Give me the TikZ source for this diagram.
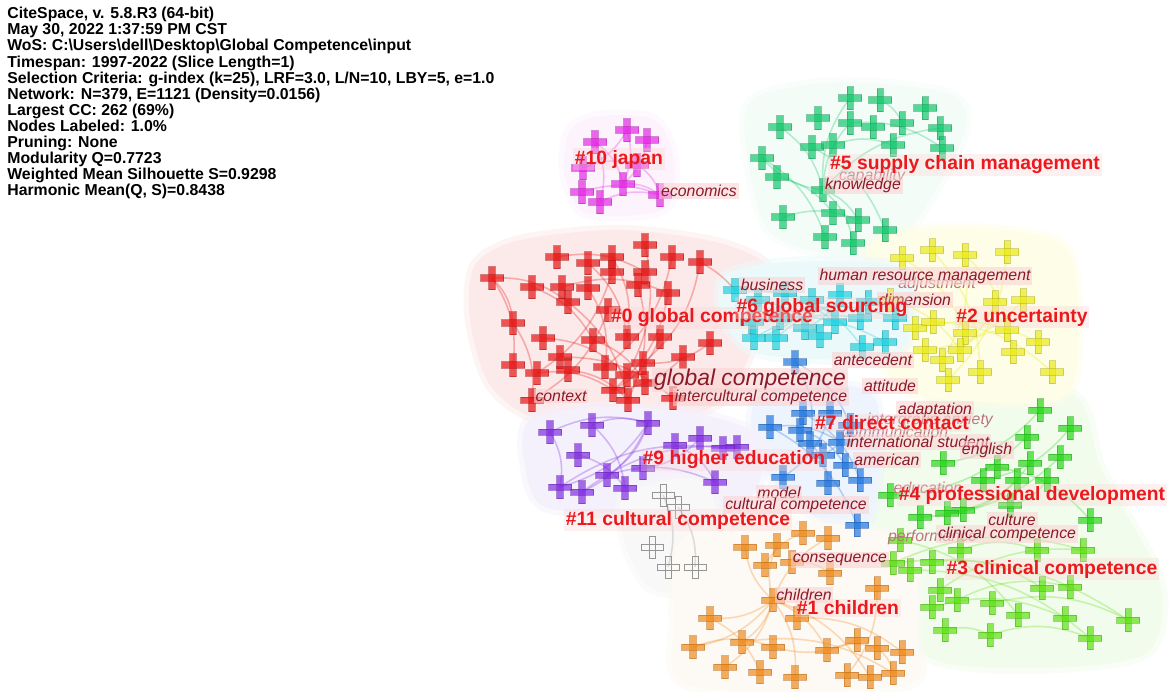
\documentclass[tikz,border=0pt]{standalone}
\usepackage{fontspec}
\setmainfont{Liberation Sans}
\usepackage{tikz}
\definecolor{cred}{RGB}{232,20,20}
\definecolor{cmg}{RGB}{230,40,230}
\definecolor{csg}{RGB}{20,200,110}
\definecolor{ccy}{RGB}{30,210,225}
\definecolor{cyl}{RGB}{235,235,25}
\definecolor{cbl}{RGB}{35,120,225}
\definecolor{cpu}{RGB}{130,45,225}
\definecolor{cgy}{RGB}{150,150,150}
\definecolor{cor}{RGB}{240,140,30}
\definecolor{cgn}{RGB}{40,215,25}
\definecolor{clm}{RGB}{95,225,20}
\definecolor{hred}{RGB}{252,233,233}
\definecolor{hmg}{RGB}{253,243,253}
\definecolor{hsg}{RGB}{244,252,247}
\definecolor{hcy}{RGB}{236,249,250}
\definecolor{hyl}{RGB}{253,253,232}
\definecolor{hbl}{RGB}{238,244,253}
\definecolor{hpu}{RGB}{244,241,252}
\definecolor{hgy}{RGB}{248,248,248}
\definecolor{hor}{RGB}{253,249,244}
\definecolor{hgn}{RGB}{242,252,237}
\definecolor{kwred}{RGB}{140,25,40}
\definecolor{clred}{RGB}{235,25,30}
\definecolor{kwbg}{RGB}{250,212,212}
\pgfdeclarelayer{hull}
\pgfdeclarelayer{link}
\pgfsetlayers{hull,link,main}
\tikzset{
  crs/.style={rectangle,inner sep=0,minimum size=0.52cm,path picture={
    \fill[#1,fill opacity=.7,draw=#1!75!black,draw opacity=.5,line width=.3pt]
      ([shift={(-0.065cm,-0.23cm)}]path picture bounding box.center) rectangle ([shift={(0.065cm,0.23cm)}]path picture bounding box.center);
    \fill[#1,fill opacity=.7,draw=#1!75!black,draw opacity=.5,line width=.3pt]
      ([shift={(-0.23cm,-0.065cm)}]path picture bounding box.center) rectangle ([shift={(0.23cm,0.065cm)}]path picture bounding box.center);}},
  gcrs/.style={rectangle,inner sep=0,minimum size=0.52cm,path picture={
    \draw[cgy,line width=.4pt]
      ([shift={(-0.06cm,-0.22cm)}]path picture bounding box.center) rectangle ([shift={(0.06cm,0.22cm)}]path picture bounding box.center)
      ([shift={(-0.22cm,-0.06cm)}]path picture bounding box.center) rectangle ([shift={(0.22cm,0.06cm)}]path picture bounding box.center);}},
  lnk/.style={draw=#1,draw opacity=.3,line width=.9pt},
  hl/.style={fill=#1,draw=#1,line width=6pt,draw opacity=.5},
  kw/.style={font=\itshape\fontsize{9}{9}\selectfont,text=kwred,fill=kwbg,fill opacity=.6,text opacity=1,inner sep=1pt},
  ghost/.style={font=\itshape\fontsize{9}{9}\selectfont,text=kwred!60!white,inner sep=1pt},
  cl/.style={font=\bfseries\fontsize{11}{11}\selectfont,text=clred,fill=kwbg,fill opacity=.35,text opacity=1,inner sep=1pt}
}
\begin{document}
\begin{tikzpicture}[x=0.02cm,y=-0.02cm]
\useasboundingbox (0,0) rectangle (1169,691);

\node[anchor=north west,inner sep=0,align=left,font=\bfseries\fontsize{9}{9.15}\selectfont] (info) at (7,7)
  {CiteSpace, v. 5.8.R3 (64-bit)\\
   May 30, 2022 1:37:59 PM CST\\
   WoS: C:\textbackslash Users\textbackslash dell\textbackslash Desktop\textbackslash Global Competence\textbackslash input\\
   Timespan: 1997-2022 (Slice Length=1)\\
   Selection Criteria: g-index (k=25), LRF=3.0, L/N=10, LBY=5, e=1.0\\
   Network: N=379, E=1121 (Density=0.0156)\\
   Largest CC: 262 (69\%)\\
   Nodes Labeled: 1.0\%\\
   Pruning: None\\
   Modularity Q=0.7723\\
   Weighted Mean Silhouette S=0.9298\\
   Harmonic Mean(Q, S)=0.8438};

\begin{pgfonlayer}{hull}
  \fill[hl=hred] plot[smooth cycle] coordinates {(475,265) (520,240) (620,230) (720,243) (770,270) (760,330) (720,402) (640,425) (540,420) (490,385) (470,320)};
  \fill[hl=hmg] plot[smooth cycle] coordinates {(570,130) (600,116) (655,120) (674,160) (668,206) (625,216) (580,210) (564,170)};
  \fill[hl=hsg] plot[smooth cycle] coordinates {(752,100) (840,82) (952,95) (962,140) (900,242) (840,256) (770,232) (748,160)};
  \fill[hl=hgn] plot[smooth cycle] coordinates {(870,470) (940,398) (1072,394) (1102,470) (1160,580) (1148,652) (1050,668) (930,658) (868,580)};
  \fill[hl=hyl] plot[smooth cycle] coordinates {(872,242) (960,228) (1062,244) (1078,320) (1066,396) (980,402) (900,388) (868,320)};
  \fill[hl=hcy] plot[smooth cycle] coordinates {(724,276) (790,262) (900,268) (912,330) (880,358) (760,354) (724,320)};
  \fill[hl=hbl] plot[smooth cycle] coordinates {(758,396) (820,384) (876,400) (876,500) (852,536) (790,498) (754,450)};
  \fill[hl=hpu] plot[smooth cycle] coordinates {(530,420) (600,407) (700,414) (762,440) (746,502) (650,512) (545,507) (524,460)};
  \fill[hl=hgy] plot[smooth cycle] coordinates {(626,494) (700,480) (722,540) (702,588) (650,588) (624,540)};
  \fill[hl=hor] plot[smooth cycle] coordinates {(680,540) (760,520) (900,540) (918,640) (902,686) (690,686) (674,620)};
\end{pgfonlayer}

\foreach \x/\y [count=\i] in {627/130,647/140,595/142,583/168,637/165,623/184,582/192,600/202,660/195}
  \node[crs=cmg] (m\i) at (\x,\y) {};
\foreach \x/\y [count=\i] in {850/98,880/100,925/108,780/127,818/118,850/123,873/127,902/123,940/128,762/158,777/177,812/147,833/145,893/145,942/148,823/190,783/217,833/213,858/220,885/230,825/237,853/243}
  \node[crs=csg] (s\i) at (\x,\y) {};
\foreach \x/\y [count=\i] in {492/278,532/287,557/257,562/287,588/263,588/288,612/257,612/272,645/245,645/272,672/257,700/262,668/293,638/285,568/302,608/310,513/323,543/338,593/340,627/337,660/337,710/343,513/365,537/373,560/357,568/370,605/367,643/363,627/375,683/357,613/390,628/400,532/400,673/398,645/383}
  \node[crs=cred] (r\i) at (\x,\y) {};
\foreach \x/\y [count=\i] in {735/290,758/300,785/293,812/300,840/295,868/302,752/322,780/318,805/328,835/322,860/318,754/338,776/338,820/336,862/347,885/342,895/318}
  \node[crs=ccy] (c\i) at (\x,\y) {};
\foreach \x/\y [count=\i] in {902/258,932/250,965/255,1007/252,1023/300,995/302,915/328,933/322,965/333,925/350,942/360,960/350,948/380,980/372,1013/352,1038/342,1052/372,1007/330,890/300}
  \node[crs=cyl] (y\i) at (\x,\y) {};
\foreach \x/\y [count=\i] in {795/362,770/427,803/413,830/413,800/430,810/443,840/442,783/477,828/483,860/480,857/525,850/425,823/455,845/465}
  \node[crs=cbl] (b\i) at (\x,\y) {};
\foreach \x/\y [count=\i] in {550/432,592/425,648/423,578/455,675/445,700/438,737/447,607/475,560/487,582/492,625/488,643/468,715/482,723/448}
  \node[crs=cpu] (p\i) at (\x,\y) {};
\foreach \x/\y [count=\i] in {663/495,678/507,652/547,668/567,695/567}
  \node[gcrs] (g\i) at (\x,\y) {};
\foreach \x/\y [count=\i] in {745/547,777/545,803/533,828/538,765/565,792/562,830/573,877/588,773/600,710/618,797/618,742/642,773/647,693/647,827/650,857/640,877/648,902/652,725/667,760/672,795/677,847/675,870/677,893/673}
  \node[crs=cor] (o\i) at (\x,\y) {};
\foreach \x/\y [count=\i] in {1040/410,1070/428,1027/437,1060/457,943/463,997/467,1030/463,983/480,1017/480,1047/480,963/510,920/517,947/513,1090/520,890/495,1010/505}
  \node[crs=cgn] (l\i) at (\x,\y) {};
\foreach \x/\y [count=\i] in {893/563,910/570,932/562,940/590,932/607,957/600,992/603,1018/615,1065/618,1128/620,945/630,990/635,1090/638,1042/588,1070/587,1083/550,1037/550,960/550,900/540}
  \node[crs=clm] (k\i) at (\x,\y) {};

\begin{pgfonlayer}{link}
  \foreach \a/\b in {1/6,3/6,6/9,7/9,8/9,4/5,2/6,3/8,5/9,1/4}
    \draw[lnk=cmg] (m\a.center) to[bend left=20] (m\b.center);
  \foreach \a/\b in {16/1,16/6,16/9,16/19,16/22,16/10,11/18,10/21,4/16,6/15,12/20,13/14,2/8,17/19}
    \draw[lnk=csg] (s\a.center) to[bend left=20] (s\b.center);
  \foreach \a/\b in {1/17,1/23,1/15,2/19,3/10,5/20,6/27,9/29,12/28,13/31,14/32,15/32,17/33,18/29,19/35,21/31,22/28,24/31,25/34,26/32,4/13,7/20,11/27,16/33,30/31,8/24}
    \draw[lnk=cred] (r\a.center) to[bend left=20] (r\b.center);
  \draw[lnk=cred] (r12.center) to[bend left=10] (c1.center);
  \foreach \a/\b in {1/10,2/14,3/15,7/16,12/11,13/6,8/17,4/12,5/9}
    \draw[lnk=ccy] (c\a.center) to[bend left=20] (c\b.center);
  \foreach \a/\b in {1/9,2/14,3/15,4/13,5/10,6/11,7/16,8/17,12/18,19/12,3/11}
    \draw[lnk=cyl] (y\a.center) to[bend left=20] (y\b.center);
  \foreach \a/\b in {1/6,2/7,3/10,4/8,5/14,6/9,12/13,2/11,1/12}
    \draw[lnk=cbl] (b\a.center) to[bend left=20] (b\b.center);
  \foreach \a/\b in {1/3,1/9,2/11,3/9,3/10,4/11,3/8,5/13,6/12,9/14,10/7,2/3,8/13}
    \draw[lnk=cpu] (p\a.center) to[bend left=20] (p\b.center);
  \foreach \a/\b in {1/4,2/5}
    \draw[lnk=cgy] (g\a.center) to[bend left=20] (g\b.center);
  \foreach \a/\b in {9/1,9/2,9/4,9/10,9/12,9/14,9/19,9/21,9/15,9/23,16/13,8/22,11/18,5/3,6/7,10/20,12/24,15/17,14/13,17/24}
    \draw[lnk=cor] (o\a.center) to[bend left=20] (o\b.center);
  \foreach \a/\b in {1/5,2/8,3/15,4/12,6/14,7/11,9/13,10/16}
    \draw[lnk=cgn] (l\a.center) to[bend left=20] (l\b.center);
  \foreach \a/\b in {1/10,2/13,3/14,4/16,5/9,6/15,11/12,12/13,7/10,18/17,19/8,1/16}
    \draw[lnk=clm] (k\a.center) to[bend left=20] (k\b.center);
\end{pgfonlayer}

\node[ghost] (kcap) at (872,176) {capability};
\node[ghost] (kadj) at (937,284) {adjustment};
\node[ghost] (kanx) at (930,420) {intergroup anxiety};
\node[ghost] (kcom) at (895,432) {communication};
\node[ghost] (kedu) at (928,488) {education};
\node[ghost,anchor=west] (kper) at (886,537) {performance};

\node[kw] (kecon) at (699,191) {economics};
\node[kw] (kknow) at (863,185) {knowledge};
\node[kw] (kbus) at (772,285) {business};
\node[kw] (khrm) at (925,276) {human resource management};
\node[kw] (kdim) at (915,300) {dimension};
\node[kw] (kant) at (873,360) {antecedent};
\node[kw,font=\itshape\fontsize{13}{13}\selectfont] (kgc) at (750,380) {global competence};
\node[kw] (katt) at (890,386) {attitude};
\node[kw] (kic) at (761,397) {intercultural competence};
\node[kw] (kctx) at (561,396) {context};
\node[kw] (kada) at (935,410) {adaptation};
\node[kw] (kis) at (918,442) {international student};
\node[kw] (keng) at (987,450) {english};
\node[kw] (kam) at (887,460) {american};
\node[kw] (kmod) at (779,493) {model};
\node[kw] (kcc) at (796,505) {cultural competence};
\node[kw] (kcul) at (1012,520) {culture};
\node[kw] (kclc) at (1007,534) {clinical competence};
\node[kw] (kcon) at (840,560) {consequence};
\node[kw] (kchi) at (804,595) {children};

\node[cl] (n10) at (619,159) {\#10 japan};
\node[cl] (n5) at (965,165) {\#5 supply chain management};
\node[cl] (n0) at (712,318) {\#0 global competence};
\node[cl] (n6) at (822,308) {\#6 global sourcing};
\node[cl] (n2) at (1022,317) {\#2 uncertainty};
\node[cl] (n7) at (892,423) {\#7 direct contact};
\node[cl] (n9) at (734,460) {\#9 higher education};
\node[cl] (n4) at (1032,495) {\#4 professional development};
\node[cl] (n11) at (678,520) {\#11 cultural competence};
\node[cl] (n3) at (1052,569) {\#3 clinical competence};
\node[cl] (n1) at (848,608) {\#1 children};
\end{tikzpicture}
\end{document}
